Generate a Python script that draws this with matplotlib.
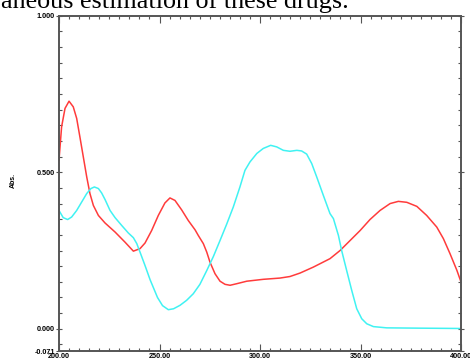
import numpy as np
import matplotlib.pyplot as plt
from matplotlib.ticker import MultipleLocator, FixedLocator

# Spectra (wavelength nm, absorbance)
red_nm = [200, 201.3, 203, 205, 207.1, 208.8, 210.4, 212.1, 213.8, 215.4, 217.1, 219.6,
          222.9, 227.9, 232.8, 237, 240.3, 242.8, 246.1, 249.4, 252.7, 255.2, 257.7,
          261, 264.3, 267.7, 269.3, 271.8, 273.5, 275.1, 277.6, 280.1, 282.6, 285.1,
          288.4, 293.4, 301.6, 309.9, 314.9, 319.9, 326.5, 334.8, 339.8, 344.8,
          349.8, 354.7, 359.7, 364.7, 368.8, 373, 378, 382.9, 387.9, 391.2, 394.5,
          397.9, 400]
red_abs = [0.538, 0.645, 0.704, 0.727, 0.709, 0.672, 0.613, 0.549, 0.485, 0.432, 0.394, 0.362,
           0.338, 0.309, 0.277, 0.248, 0.256, 0.274, 0.314, 0.362, 0.402, 0.418, 0.41,
           0.38, 0.346, 0.316, 0.298, 0.272, 0.245, 0.213, 0.176, 0.152, 0.142, 0.139,
           0.144, 0.152, 0.158, 0.162, 0.167, 0.178, 0.197, 0.224, 0.25, 0.282,
           0.314, 0.349, 0.378, 0.4, 0.407, 0.404, 0.391, 0.362, 0.325, 0.288, 0.24,
           0.187, 0.149]

cyan_nm = [200, 202.1, 204.3, 206.3, 208.8, 211.3, 213.8, 215.9, 217.6, 219.6, 221.2, 222.9,
           225.4, 227.9, 231.2, 234.5, 237, 238.7, 240.3, 242.8, 245.3, 249, 251.5,
           254.4, 257, 260.2, 263.5, 266.8, 270.1, 273.5, 276.8, 280.1, 283.4, 286.7,
           290, 292.5, 295, 298.4, 301.6, 305.3, 308.3, 311.6, 314.9, 318.3, 320.7,
           323.2, 325.7, 328.2, 331.5, 334.8, 336.5, 339, 340.6, 343.1, 345.6, 348.1,
           350.6, 353.1, 356.4, 363, 379.6, 400]
cyan_abs = [0.378, 0.355, 0.349, 0.357, 0.378, 0.405, 0.432, 0.448, 0.453, 0.448, 0.434, 0.413,
            0.378, 0.355, 0.33, 0.306, 0.291, 0.272, 0.245, 0.202, 0.157, 0.1, 0.074,
            0.061, 0.064, 0.075, 0.091, 0.112, 0.142, 0.186, 0.231, 0.282, 0.334, 0.389,
            0.453, 0.506, 0.533, 0.56, 0.576, 0.586, 0.581, 0.57, 0.567, 0.57, 0.568,
            0.558, 0.528, 0.485, 0.426, 0.368, 0.352, 0.298, 0.25, 0.186, 0.123, 0.064,
            0.032, 0.016, 0.007, 0.003, 0.002, 0.001]

x_ticks = [200, 250, 300, 350, 400]
y_ticks = [-0.071, 0.0, 0.5, 1.0]

fig = plt.figure(figsize=(4.70, 3.63), dpi=100)
ax = fig.add_axes([0.1255, 0.033, 0.8555, 0.9237])

ax.plot(red_nm, red_abs, color='#ff3b3b', lw=1.1)
ax.plot(cyan_nm, cyan_abs, color='#40f2f2', lw=1.1)

ax.set_xlim(200, 400)
ax.set_ylim(-0.071, 1.0)

ax.xaxis.set_major_locator(FixedLocator(x_ticks))
ax.xaxis.set_minor_locator(MultipleLocator(5))
ax.yaxis.set_major_locator(FixedLocator(y_ticks))
ax.yaxis.set_minor_locator(FixedLocator(np.arange(-0.05, 1.0, 0.05)))
ax.set_xticklabels([f"{v:.2f}" for v in x_ticks])
ax.set_yticklabels([f"{v:.3f}" for v in y_ticks])

lab_font = dict(family='Liberation Sans', size=5.2, weight='bold')
for t in ax.get_xticklabels() + ax.get_yticklabels():
    t.set_fontproperties(lab_font)

ax.tick_params(axis='x', which='major', direction='in', length=5, width=0.8,
               top=True, bottom=True, pad=1.5, color='#555555')
ax.tick_params(axis='x', which='minor', direction='in', length=2.5, width=0.8,
               top=True, bottom=True, color='#555555')
ax.tick_params(axis='y', which='major', direction='inout', length=4, width=0.8,
               left=True, right=True, pad=1, color='#555555')
ax.tick_params(axis='y', which='minor', direction='in', length=2.5, width=0.8,
               left=True, right=True, color='#555555')

for s in ax.spines.values():
    s.set_color('#555555')
    s.set_linewidth(1.4)

fig.text(0.028, 0.504, "Abs.", rotation=90, ha='center', va='center',
         family='Liberation Sans', size=5, weight='bold')

# caption text cut off at the top of the source image
fig.text(0.002, 0.978, "aneous estimation of these drugs.", ha='left', va='baseline',
         family='Liberation Serif', size=18.8, color='black')

fig.savefig('out.png', dpi=100)
